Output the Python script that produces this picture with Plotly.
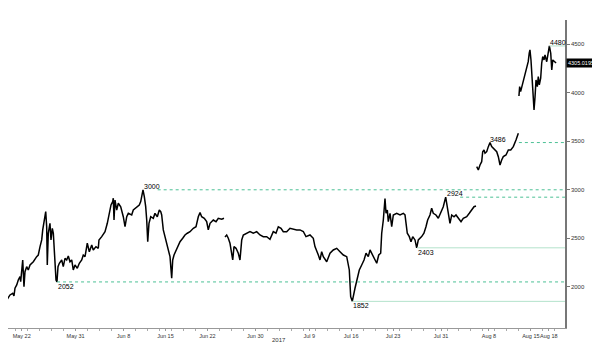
import pandas as pd
import plotly.graph_objects as go

# ---- data (days offset from 2017-05-22 00:00, prices) ----
base_date = "2017-05-22"

seg1_days = [-2.50,-1.95,-1.50,-1.29,-1.12,-0.83,-0.57,-0.28,-0.17,0.00,0.17,0.38,0.55,0.83,1.10,1.39,1.94,2.50,2.77,3.06,3.34,3.51,3.72,4.01,4.17,4.27,4.44,4.72,4.89,5.11,5.28,5.44,5.73,5.89,6.06,6.28,6.68,6.94,7.23,7.51,7.78,8.06,8.35,8.61,8.90,9.28,9.62,10.02,10.28,10.57,10.95,11.29,11.69,11.95,12.40,12.79,12.90,13.36,13.91,14.29,14.62,14.91,15.19,15.29,15.41,15.58,15.86,16.13,16.53,16.96,17.25,17.53,17.80,18.36,18.63,19.20,19.63,19.87,20.13,20.25,20.47,20.70,20.87,21.04,21.25,21.54,21.97,22.25,22.64,22.97,23.21,23.37,23.64,23.92,24.21,24.47,24.76,25.04,25.21,25.43,25.88,26.43,26.88,27.26,27.65,28.10,28.65,29.10,29.48,29.77,30.05,30.48,30.88,31.15,31.44,31.99,32.44,32.82,33.39,33.77]
seg1_prices = [1866,1918,1935,1907,1987,2021,2072,2106,2055,2175,2278,2003,2157,2209,2175,2226,2260,2312,2329,2415,2484,2587,2672,2775,2620,2226,2553,2655,2484,2604,2553,2381,2072,2052,2209,2244,2278,2209,2295,2278,2319,2260,2278,2175,2226,2192,2244,2278,2329,2312,2450,2363,2432,2381,2415,2398,2484,2518,2569,2655,2775,2844,2878,2913,2689,2895,2792,2861,2826,2723,2620,2723,2758,2741,2792,2826,2844,2878,2981,3000,2929,2826,2689,2466,2655,2723,2707,2758,2723,2792,2775,2741,2587,2518,2466,2381,2312,2090,2278,2329,2398,2466,2501,2535,2553,2569,2604,2620,2723,2765,2723,2707,2672,2587,2655,2689,2672,2707,2697,2707]

seg2_days = [33.94,34.22,34.49,34.77,35.23,35.44,35.78,36.16,36.44,36.73,37.00,37.56,38.11,38.66,39.23,39.78,40.33,40.90,41.45,42.00,42.45,42.84,43.29,43.67,44.24,44.79,45.34,45.91,46.46,47.01,47.46,48.13,48.68,48.96,49.52,49.80,50.08,50.35,50.92,51.47,52.02,52.59,53.14,53.69,54.26,54.69,54.92,55.19,55.64,55.93,56.36,56.76,57.15,57.48,57.86,58.15,58.60,58.98,59.27,59.60,59.93,60.10,60.37,60.65,60.82,61.04,61.20,61.49,61.77,62.04,62.60,63.16,63.71,63.99,64.16,64.37,64.71,64.99,65.28,65.66,65.94,66.21,66.77,67.15,67.49,67.77,68.16,68.44,68.71,69.16,69.55,69.95,70.38,70.78,71.05,71.34,71.50,71.79,72.17,72.50,72.89,73.34,73.72,74.29,74.72,75.12,75.51,75.84]
seg2_prices = [2515,2535,2501,2450,2278,2415,2398,2347,2278,2484,2535,2553,2569,2553,2569,2535,2518,2518,2491,2569,2553,2620,2604,2569,2569,2604,2594,2587,2587,2571,2518,2535,2501,2415,2329,2278,2363,2312,2260,2347,2381,2398,2363,2329,2312,2175,1900,1852,1987,2055,2175,2226,2278,2347,2312,2381,2329,2278,2244,2329,2347,2553,2689,2910,2758,2792,2672,2758,2620,2741,2758,2741,2758,2741,2620,2553,2518,2466,2518,2484,2403,2484,2518,2553,2620,2689,2741,2810,2758,2741,2707,2758,2826,2924,2826,2707,2655,2741,2723,2741,2707,2672,2707,2723,2758,2792,2826,2833]

seg3_days = [75.96,76.23,76.51,76.79,76.96,77.18,77.35,77.63,77.90,78.18,78.46,78.73,79.01,79.30,79.57,79.85,80.13,80.40,80.85,81.24,81.64,82.07,82.52,82.91]
seg3_prices = [3238,3204,3255,3289,3392,3410,3376,3392,3444,3486,3444,3427,3410,3392,3341,3255,3307,3341,3358,3410,3410,3444,3513,3582]

seg4_days = [83.01,83.13,83.29,83.62,83.84,84.18,84.40,84.56,84.73,84.85,85.02,85.19,85.41,85.53,85.70,85.86,86.08,86.24,86.41,86.64,86.81,86.98,87.20,87.36,87.65,87.92,88.09,88.32,88.49,88.66,89.21]
seg4_prices = [3965,4061,4010,4096,4148,4233,4267,4318,4405,4439,4336,4164,3993,3822,3958,4130,4061,4164,4079,4148,4302,4370,4336,4387,4318,4421,4480,4405,4233,4336,4305.0195]

last_value_label = "4305.0195"

# marked levels
level_prices = [3000, 2052, 1852, 2403, 2924, 3486, 4480]
level_label_days = [20.25, 5.89, 55.19, 65.94, 70.78, 78.05, 88.09]
level_line_start = [22.7, 5.9, 55.2, 66.0, 73.2, 83.0, 88.1]
level_label_pos = ["above", "below", "below", "below", "above", "above", "above"]
level_dotted = [True, True, False, False, True, True, False]

tick_days = [0, 9, 17, 24, 31, 39, 48, 55, 62, 70, 78, 85, 88]
tick_text = ["May 22", "May 31", "Jun 8", "Jun 15", "Jun 22", "Jun 30", "Jul 9",
             "Jul 16", "Jul 23", "Jul 31", "Aug 8", "Aug 15", "Aug 18"]
y_ticks = [2000, 2500, 3000, 3500, 4000, 4500]
year_label = "2017"
year_day = 43.0

x_range_days = [-2.287, 90.70]
y_range = [1578, 4747]

base = pd.Timestamp(base_date)


def to_dates(days):
    return list(base + pd.to_timedelta(days, unit="D"))


xs, ys = [], []
for d, p in [(seg1_days, seg1_prices), (seg2_days, seg2_prices),
             (seg3_days, seg3_prices), (seg4_days, seg4_prices)]:
    xs += to_dates(d) + [None]
    ys += list(p) + [None]

fig = go.Figure()
fig.add_trace(go.Scatter(x=xs, y=ys, mode="lines",
                         line=dict(color="black", width=1.5),
                         connectgaps=False, showlegend=False, cliponaxis=False))

x_end = base + pd.to_timedelta(x_range_days[1], unit="D")
dot_col = "#4cc095"
solid_col = "#b3e2cb"

for price, ld, ls, pos, dotted in zip(level_prices, level_label_days, level_line_start,
                                       level_label_pos, level_dotted):
    start = base + pd.to_timedelta(ls, unit="D")
    fig.add_shape(type="line", xref="x", yref="y", x0=start, x1=x_end, y0=price, y1=price,
                  line=dict(color=dot_col if dotted else solid_col, width=1,
                            dash="3px,3px" if dotted else "solid"))
    fig.add_annotation(x=base + pd.to_timedelta(ld, unit="D"), y=price, xref="x", yref="y",
                       text=str(price), showarrow=False, xanchor="left",
                       yanchor="bottom" if pos == "above" else "top",
                       yshift=-2 if pos == "above" else 1, xshift=-1,
                       font=dict(family="Liberation Sans", size=7, color="black"))

# last value box
fig.add_annotation(xref="paper", x=1, y=seg4_prices[-1], yref="y", text=last_value_label,
                   showarrow=False, xanchor="left", xshift=1, bgcolor="black",
                   font=dict(family="Liberation Sans", size=5.5, color="white"), borderpad=1)

# year label
fig.add_annotation(x=base + pd.to_timedelta(year_day, unit="D"), xref="x", yref="paper", y=0,
                   yanchor="top", yshift=-7, text=year_label, showarrow=False,
                   font=dict(family="Liberation Sans", size=6, color="#333"))

fig.update_layout(
    width=592, height=350,
    margin=dict(l=0, r=35, t=12, b=30, autoexpand=False),
    paper_bgcolor="white", plot_bgcolor="white",
    xaxis=dict(type="date", automargin=False, tickangle=0,
               range=[base + pd.to_timedelta(x_range_days[0], unit="D"), x_end],
               tickvals=to_dates(tick_days), ticktext=tick_text,
               showgrid=False, zeroline=False, showline=True, linecolor="#999", linewidth=1,
               ticks="outside", ticklen=2, tickcolor="#999",
               tickfont=dict(family="Liberation Sans", size=5.5, color="#333"),
               minor=dict(dtick=2 * 86400000, ticks="outside", ticklen=2, tickcolor="#aaa")),
    yaxis=dict(range=y_range, side="right", automargin=False, tickvals=y_ticks,
               showgrid=False, zeroline=False, showline=True, linecolor="#777", linewidth=1.5,
               ticks="outside", ticklen=3, tickcolor="#777",
               tickfont=dict(family="Liberation Sans", size=6, color="#333")),
)

fig.write_html("out.html")
